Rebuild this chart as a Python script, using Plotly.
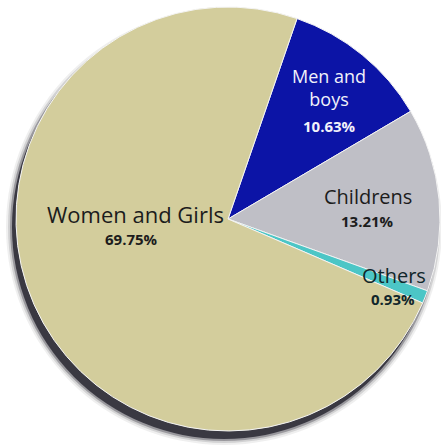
import plotly.graph_objects as go

# Share of each group
categories = ["Men and boys", "Childrens", "Others", "Women and Girls"]
values = [10.63, 13.21, 0.93, 69.75]
display_names = ["Men and<br>boys", "Childrens", "Others", "Women and Girls"]
colors = ["#0c14a6", "#bfbfc6", "#4cc6c6", "#d3cd9c"]
text_colors = ["#f2f2fa", "#1c1c1c", "#10262a", "#1c1c1c"]

# Label anchor points (pixels from top-left): name line, percent line
name_pos = [(329, 88), (368, 197), (394, 275), (135, 214)]
name_sizes = [18, 20, 20, 22]
pct_pos = [(329, 126), (367, 221), (393, 299), (131, 239)]

W, H = 441, 448
FONT = "Open Sans"

# Pie circle geometry in pixels
cx, cy, r = 228, 219, 212


def px(x):
    return x / W


def py(y):
    return 1 - y / H


fig = go.Figure()

fig.add_trace(go.Pie(
    labels=categories,
    values=values,
    sort=False,
    direction="clockwise",
    rotation=19,
    marker=dict(colors=colors, line=dict(color="#f4f4f4", width=1)),
    textinfo="none",
    hoverinfo="label+value",
    showlegend=False,
    domain=dict(x=[px(cx - r), px(cx + r)], y=[py(cy + r), py(cy - r)]),
))

# Soft drop shadow under the disc (offset down-left)
shapes = []
sx, sy = cx - 4, cy + 8
for grow, op in [(6, 0.08), (4, 0.15), (2, 0.35), (0, 0.9)]:
    rr = r + grow
    shapes.append(dict(
        type="circle", xref="paper", yref="paper", layer="below",
        x0=px(sx - rr), x1=px(sx + rr), y0=py(sy + rr), y1=py(sy - rr),
        fillcolor="#302f38", opacity=op, line=dict(width=0),
    ))

annotations = []
for name, val, col, size, (nx, ny), (qx, qy) in zip(
        display_names, values, text_colors, name_sizes, name_pos, pct_pos):
    annotations.append(dict(
        x=px(nx), y=py(ny), xref="paper", yref="paper", text=name,
        showarrow=False, xanchor="center", yanchor="middle",
        font=dict(family=FONT, size=size, color=col),
    ))
    annotations.append(dict(
        x=px(qx), y=py(qy), xref="paper", yref="paper", text=f"<b>{val:.2f}%</b>",
        showarrow=False, xanchor="center", yanchor="middle",
        font=dict(family=FONT, size=15, color=col),
    ))

fig.update_layout(
    width=W, height=H,
    margin=dict(l=0, r=0, t=0, b=0),
    paper_bgcolor="white", plot_bgcolor="white",
    shapes=shapes, annotations=annotations,
)

fig.write_html("out.html")
